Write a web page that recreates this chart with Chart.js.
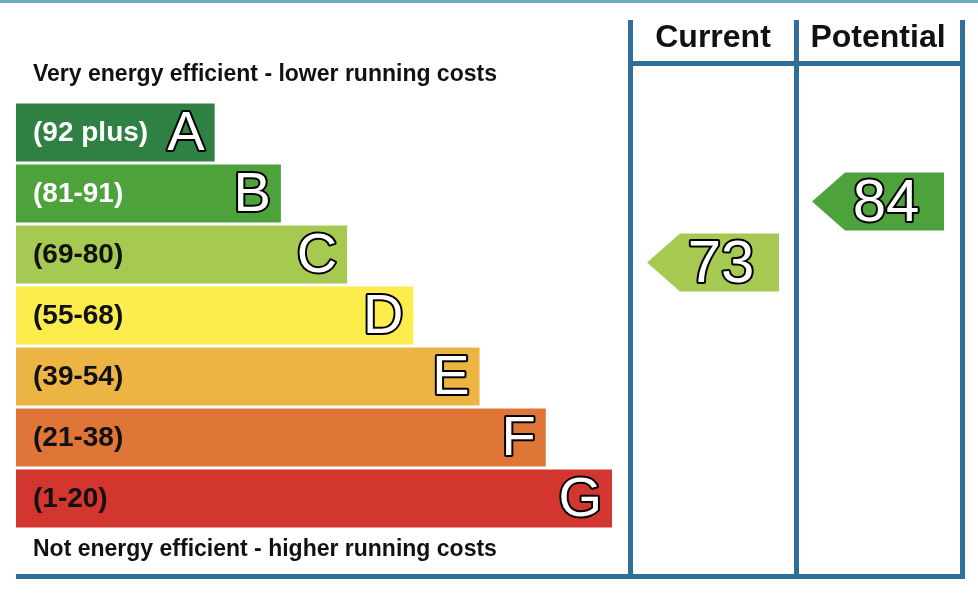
<!DOCTYPE html>
<html>
<head>
<meta charset="utf-8">
<script src="https://cdn.jsdelivr.net/npm/chart.js@4"></script>
<style>
html,body{margin:0;padding:0;background:#fff;}
#wrap{width:978px;height:600px;position:relative;}
</style>
</head>
<body>
<div id="wrap"><canvas id="epc" width="978" height="600"></canvas></div>
<script>
'use strict';

const bands = ['A', 'B', 'C', 'D', 'E', 'F', 'G'];
const ranges = ['(92 plus)', '(81-91)', '(69-80)', '(55-68)', '(39-54)', '(21-38)', '(1-20)'];
const barLengths = [3, 4, 5, 6, 7, 8, 9];
const bandColors = ['#2e8043', '#4da23c', '#a6c952', '#fcec4c', '#ecb443', '#e07538', '#d2362f'];
const rangeTextColors = ['#fff', '#fff', '#111', '#111', '#111', '#111', '#111'];
const currentRating = 73;
const potentialRating = 84;
const columnTitles = ['Current', 'Potential'];

const blue = '#2f6f98';
const FONT = '"Liberation Sans", Arial, sans-serif';

function bandOf(score){
	if(score >= 92) return 0;
	if(score >= 81) return 1;
	if(score >= 69) return 2;
	if(score >= 55) return 3;
	if(score >= 39) return 4;
	if(score >= 21) return 5;
	return 6;
}

function outlined(ctx, text, x, y, font, align){
	ctx.font = font;
	ctx.textAlign = align;
	ctx.textBaseline = 'middle';
	ctx.lineJoin = 'round';
	ctx.lineWidth = 4;
	ctx.strokeStyle = '#000';
	ctx.strokeText(text, x, y);
	ctx.fillStyle = '#fff';
	ctx.fillText(text, x, y);
}

const epcPlugin = {
	id: 'epcPlugin',
	afterDatasetsDraw(chart){
		const ctx = chart.ctx;
		const meta = chart.getDatasetMeta(0);
		ctx.save();
		// labels in bars
		meta.data.forEach((bar, i) => {
			ctx.font = 'bold 28px ' + FONT;
			ctx.textAlign = 'left';
			ctx.textBaseline = 'middle';
			ctx.fillStyle = rangeTextColors[i];
			ctx.fillText(ranges[i], 33, bar.y + 1);
			outlined(ctx, bands[i], bar.x - 10, bar.y + 2, '56px ' + FONT, 'right');
		});
		// captions
		ctx.fillStyle = '#111';
		ctx.font = 'bold 23px ' + FONT;
		ctx.textAlign = 'left';
		ctx.textBaseline = 'middle';
		ctx.fillText('Very energy efficient - lower running costs', 33, 75);
		ctx.fillText('Not energy efficient - higher running costs', 33, 550);

		// frame
		ctx.fillStyle = '#6ea9c2';
		ctx.fillRect(0, 0, 978, 3);
		ctx.fillStyle = blue;
		[628, 794, 960].forEach(x => ctx.fillRect(x, 20, 5, 558));
		ctx.fillRect(628, 61, 337, 5);
		ctx.fillRect(16, 574, 949, 5);
		ctx.fillStyle = '#111';
		ctx.font = 'bold 32px ' + FONT;
		ctx.textAlign = 'center';
		ctx.fillText(columnTitles[0], 713, 38);
		ctx.fillText(columnTitles[1], 878, 38);

		// rating arrows
		const arrows = [[currentRating, 647], [potentialRating, 812]];
		arrows.forEach(([score, tipX]) => {
			const b = bandOf(score);
			const cy = meta.data[b].y + 8;
			const h = 58;
			ctx.beginPath();
			ctx.moveTo(tipX, cy);
			ctx.lineTo(tipX + 33, cy - h / 2);
			ctx.lineTo(tipX + 132, cy - h / 2);
			ctx.lineTo(tipX + 132, cy + h / 2);
			ctx.lineTo(tipX + 33, cy + h / 2);
			ctx.closePath();
			ctx.fillStyle = bandColors[b];
			ctx.fill();
			outlined(ctx, String(score), tipX + 74, cy + 3, '60px ' + FONT, 'center');
		});
		ctx.restore();
	}
};

new Chart(document.getElementById('epc'), {
	type: 'bar',
	data: {
		labels: bands,
		datasets: [{
			data: barLengths,
			backgroundColor: bandColors,
			borderWidth: 0,
			barPercentage: 0.95,
			categoryPercentage: 1
		}]
	},
	options: {
		indexAxis: 'y',
		responsive: false,
		animation: false,
		layout: {padding: {left: 16, right: 366, top: 102, bottom: 71}},
		plugins: {legend: {display: false}, tooltip: {enabled: false}},
		scales: {
			x: {display: false, min: 0, max: 9},
			y: {display: false}
		}
	},
	plugins: [epcPlugin]
});
</script>
</body>
</html>
